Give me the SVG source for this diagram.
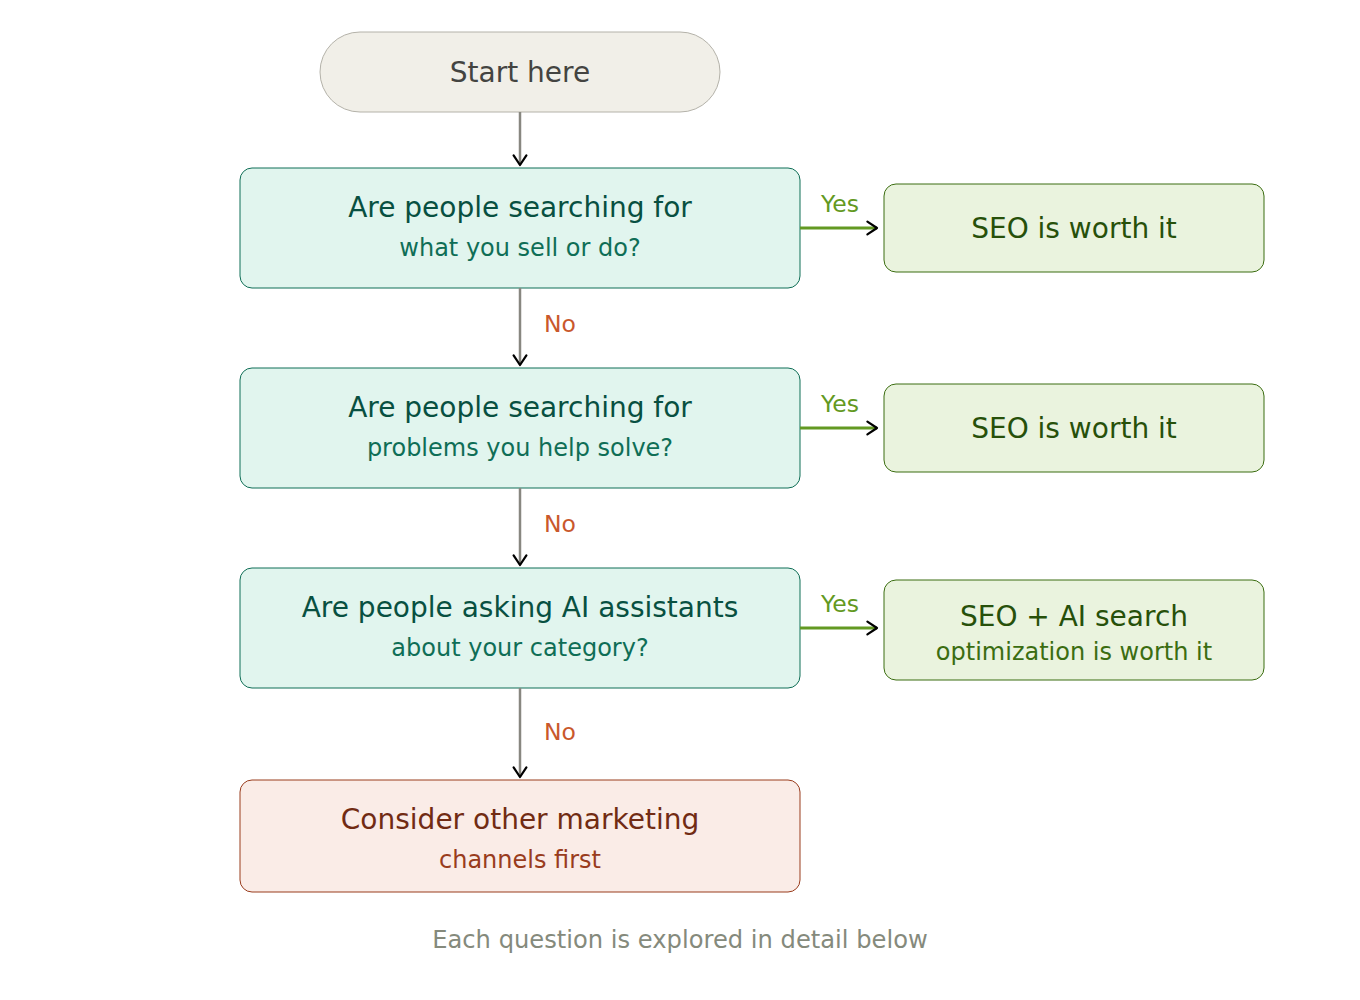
<svg xmlns="http://www.w3.org/2000/svg" width="1360" height="1000" viewBox="0 0 1360 1000">
<defs>
<marker id="arr" viewBox="0 0 10 10" refX="8" refY="5" markerWidth="16" markerHeight="16" markerUnits="userSpaceOnUse" orient="auto">
<path d="M2 1 L8 5 L2 9" fill="none" stroke="#000" stroke-width="1.4" stroke-linecap="round" stroke-linejoin="round"/>
</marker>
<style>
text{font-family:"DejaVu Sans","Liberation Sans",sans-serif;text-anchor:middle}
.start rect{fill:#f1efe8;stroke:#b4b2a9;stroke-width:1}
.start text{fill:#444441;font-size:28px}
.q rect{fill:#e1f5ee;stroke:#0f6e56;stroke-width:1}
.q .t{fill:#085041;font-size:28px}
.q .s{fill:#0f6e56;font-size:24px}
.y rect{fill:#eaf3de;stroke:#3b6d11;stroke-width:1}
.y .t{fill:#27500a;font-size:28px}
.y .s{fill:#3b6d11;font-size:24px}
.n rect{fill:#faece7;stroke:#993c1d;stroke-width:1}
.n .t{fill:#712b13;font-size:28px}
.n .s{fill:#993c1d;font-size:24px}
.v{stroke:#888780;stroke-width:2.5;fill:none}
.h{stroke:#639922;stroke-width:3;fill:none}
.yl{fill:#639922;font-size:23.5px}
.nl{fill:#c9582c;font-size:23.5px;text-anchor:start}
.foot{fill:#858a7c;font-size:24.2px}
</style>
</defs>
<g id="start" class="start">
<rect x="320" y="32" width="400" height="80" rx="40"/>
<text x="520" y="82">Start here</text>
</g>
<g id="q1" class="q">
<rect x="240" y="168" width="560" height="120" rx="12"/>
<text class="t" x="520" y="217">Are people searching for</text>
<text class="s" x="520" y="256">what you sell or do?</text>
</g>
<g id="q2" class="q">
<rect x="240" y="368" width="560" height="120" rx="12"/>
<text class="t" x="520" y="417">Are people searching for</text>
<text class="s" x="520" y="456">problems you help solve?</text>
</g>
<g id="q3" class="q">
<rect x="240" y="568" width="560" height="120" rx="12"/>
<text class="t" x="520" y="617">Are people asking AI assistants</text>
<text class="s" x="520" y="656">about your category?</text>
</g>
<g id="r1" class="y">
<rect x="884" y="184" width="380" height="88" rx="12"/>
<text class="t" x="1074" y="238">SEO is worth it</text>
</g>
<g id="r2" class="y">
<rect x="884" y="384" width="380" height="88" rx="12"/>
<text class="t" x="1074" y="438">SEO is worth it</text>
</g>
<g id="r3" class="y">
<rect x="884" y="580" width="380" height="100" rx="12"/>
<text class="t" x="1074" y="626">SEO + AI search</text>
<text class="s" x="1074" y="660">optimization is worth it</text>
</g>
<g id="other" class="n">
<rect x="240" y="780" width="560" height="112" rx="12"/>
<text class="t" x="520" y="829">Consider other marketing</text>
<text class="s" x="520" y="868">channels first</text>
</g>
<g id="connectors">
<line class="v" x1="520" y1="112" x2="520" y2="165" marker-end="url(#arr)"/>
<line class="v" x1="520" y1="288" x2="520" y2="365" marker-end="url(#arr)"/>
<line class="v" x1="520" y1="488" x2="520" y2="565" marker-end="url(#arr)"/>
<line class="v" x1="520" y1="688" x2="520" y2="777" marker-end="url(#arr)"/>
<line class="h" x1="800" y1="228" x2="877" y2="228" marker-end="url(#arr)"/>
<line class="h" x1="800" y1="428" x2="877" y2="428" marker-end="url(#arr)"/>
<line class="h" x1="800" y1="628" x2="877" y2="628" marker-end="url(#arr)"/>
<text class="yl" x="840" y="212">Yes</text>
<text class="yl" x="840" y="412">Yes</text>
<text class="yl" x="840" y="612">Yes</text>
<text class="nl" x="544" y="332">No</text>
<text class="nl" x="544" y="532">No</text>
<text class="nl" x="544" y="740">No</text>
</g>
<text class="foot" x="680" y="948">Each question is explored in detail below</text>
</svg>
